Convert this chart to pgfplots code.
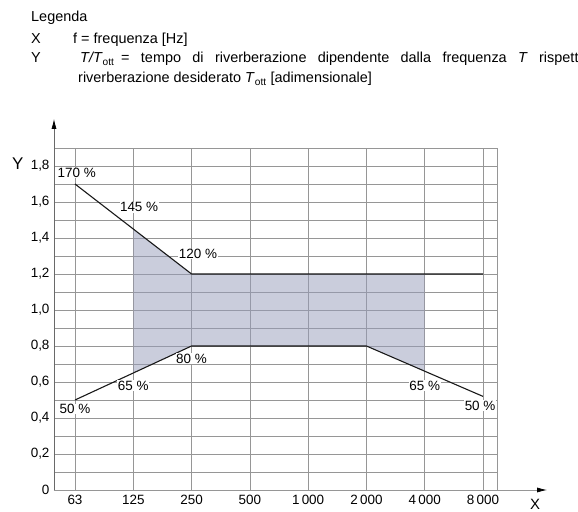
\documentclass[border=0pt]{standalone}
\usepackage{fontspec}
\setmainfont{Liberation Sans}
\usepackage{pgfplots}
\pgfplotsset{compat=1.18}
\usetikzlibrary{arrows.meta}
\definecolor{bandfill}{RGB}{150,156,186}
\definecolor{gridc}{RGB}{150,150,150}
\newcommand\lbl{\fontsize{13.5}{15}\selectfont}
\newcommand\hdr{\fontsize{14.5}{17}\selectfont}
\begin{document}
\begin{tikzpicture}
\begin{axis}[
  at={(54bp,22bp)}, anchor=south west,
  width=443bp, height=342bp, scale only axis,
  xmin=-0.36, xmax=7.24, ymin=0, ymax=1.9,
  xtick={0,1,2,3,4,5,6,7},
  xticklabels={63,125,250,500,1\,000,2\,000,4\,000,8\,000},
  ytick={0,0.2,0.4,0.6,0.8,1.0,1.2,1.4,1.6,1.8},
  yticklabels={0,{0,2},{0,4},{0,6},{0,8},{1,0},{1,2},{1,4},{1,6},{1,8}},
  minor ytick={0.1,0.3,0.5,0.7,0.9,1.1,1.3,1.5,1.7,1.9},
  grid=both,
  major grid style={gridc, line width=0.6bp},
  minor grid style={gridc, line width=0.6bp},
  major tick length=0pt, minor tick length=0pt,
  axis line style={gridc, line width=0.6bp},
  tick label style={font=\lbl},
  xticklabel style={yshift=-2bp},
  yticklabel style={xshift=-1bp},
  clip=false,
]
\addplot[draw=none, fill=bandfill, fill opacity=0.5] coordinates {(1,0.65) (2,0.8) (5,0.8) (6,0.66) (6,1.2) (2,1.2) (1,1.45)} -- cycle;
\addplot[black!90, line width=1.1bp] coordinates {(0,1.7) (1,1.45) (2,1.2) (7,1.2)};
\addplot[black!90, line width=1.1bp] coordinates {(0,0.5) (1,0.65) (2,0.8) (5,0.8) (7,0.52)};
\draw[gridc!70!black, line width=0.7bp, -{Latex[length=10bp,width=5bp,black]}] (rel axis cs:0,0) -- (rel axis cs:0,1.085);
\draw[gridc, line width=0.7bp, -{Latex[length=10bp,width=5bp,black]}] (rel axis cs:0,0) -- (rel axis cs:1.113,0);
\node[font=\lbl, fill=white, inner sep=0.5bp] at (axis cs:0.03,1.76) {170 \%};
\node[font=\lbl, fill=white, inner sep=0.5bp] at (axis cs:1.1,1.57) {145 \%};
\node[font=\lbl, fill=white, inner sep=0.5bp] at (axis cs:2.11,1.31) {120 \%};
\node[font=\lbl, fill=white, inner sep=0.5bp] at (axis cs:2.0,0.73) {80 \%};
\node[font=\lbl, fill=white, inner sep=0.5bp] at (axis cs:1.0,0.58) {65 \%};
\node[font=\lbl, fill=white, inner sep=0.5bp] at (axis cs:0.0,0.45) {50 \%};
\node[font=\lbl, fill=white, inner sep=0.5bp] at (axis cs:6.0,0.58) {65 \%};
\node[font=\lbl, fill=white, inner sep=0.5bp] at (axis cs:6.95,0.47) {50 \%};
\end{axis}
\node[anchor=base west, inner sep=0, font=\fontsize{17}{19}\selectfont] at (12bp,342bp) {Y};
\node[anchor=base, inner sep=0, font=\fontsize{15}{17}\selectfont] at (535bp,2.5bp) {X};
\node[anchor=base west, inner sep=0, font=\hdr] at (31bp,490bp) {Legenda};
\node[anchor=base west, inner sep=0, font=\hdr] at (31bp,468bp) {X};
\node[anchor=base west, inner sep=0, font=\hdr] at (73bp,468bp) {f = frequenza [Hz]};
\node[anchor=base west, inner sep=0, font=\hdr] at (31bp,449bp) {Y};
\node[anchor=base west, inner sep=0, font=\hdr] at (80bp,449bp) {\textit{T/T}\textsubscript{ott}};
\node[anchor=base west, inner sep=0, font=\hdr] at (121bp,449bp) {\makebox[562bp][s]{= tempo di riverberazione dipendente dalla frequenza \textit{T} rispetto al tempo di}};
\node[anchor=base west, inner sep=0, font=\hdr] at (78bp,429bp) {riverberazione desiderato \textit{T}\textsubscript{ott} [adimensionale]};
\pgfresetboundingbox
\useasboundingbox (0,0) rectangle (578bp,512bp);
\end{tikzpicture}
\end{document}
